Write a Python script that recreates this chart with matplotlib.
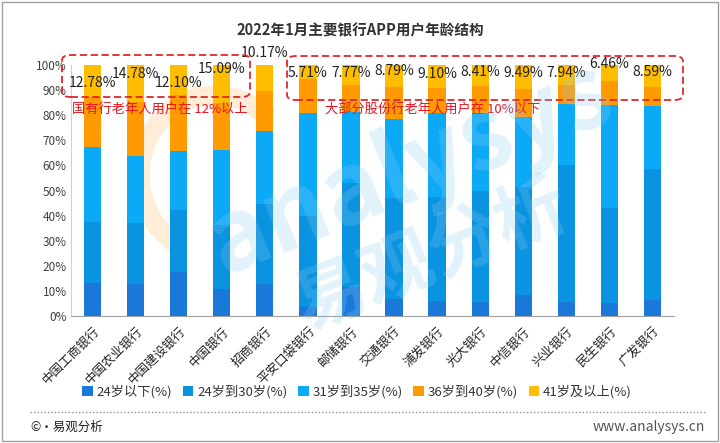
import matplotlib
matplotlib.use("Agg")
import matplotlib.pyplot as plt
from matplotlib.patches import FancyBboxPatch, Rectangle, Arc
from matplotlib.lines import Line2D
import numpy as np

plt.rcParams['font.family'] = ['Noto Sans CJK SC', 'DejaVu Sans']

banks = ['中国工商银行', '中国农业银行', '中国建设银行', '中国银行', '招商银行', '平安口袋银行',
         '邮储银行', '交通银行', '浦发银行', '光大银行', '中信银行', '兴业银行', '民生银行', '广发银行']
series_names = ['24岁以下(%)', '24岁到30岁(%)', '31岁到35岁(%)', '36岁到40岁(%)', '41岁及以上(%)']

under24 = [13.0, 12.6, 17.5, 10.6, 12.9, 3.7, 11.7, 6.9, 6.0, 5.7, 8.4, 5.7, 5.0, 6.4]
age24_30 = [24.6, 24.5, 24.7, 25.7, 31.7, 36.1, 41.4, 40.2, 41.5, 44.1, 43.0, 54.5, 38.2, 52.2]
age31_35 = [29.6, 26.6, 23.4, 29.8, 29.1, 41.2, 28.3, 31.3, 33.5, 30.9, 27.8, 24.3, 40.9, 25.1]
age36_40 = [20.0, 21.5, 22.3, 18.8, 16.1, 13.3, 10.8, 12.8, 9.9, 10.9, 11.3, 7.6, 9.4, 7.7]
age41_up = [12.78, 14.78, 12.10, 15.09, 10.17, 5.71, 7.77, 8.79, 9.10, 8.41, 9.49, 7.94, 6.46, 8.59]

# layout: vertical position (in axis %) of each value label
label_y = [92.8, 96.4, 92.8, 98.4, 104.8, 96.8, 96.8, 97.6, 96.4, 97.2, 96.8, 96.8, 100.4, 97.2]

colors = ['#1a78d8', '#0a93e0', '#0ca9f7', '#ff9a00', '#ffbd00']

fig = plt.figure(figsize=(7.2, 4.43), dpi=100)

# faint orange logo arc (watermark, behind)
fig.add_artist(Arc((215/720, 1-175/443), 150/720, 160/443, theta1=60, theta2=250,
                   transform=fig.transFigure, color='#ffd8a8', alpha=0.45, lw=14, zorder=0))

ax = fig.add_axes([71/720, 1-316/443, (674-71)/720, (316-65)/443])

x = np.arange(len(banks))
data = [under24, age24_30, age31_35, age36_40, age41_up]
bottom = np.zeros(len(banks))
handles = []
for vals, c, name in zip(data, colors, series_names):
    b = ax.bar(x, vals, 0.4, bottom=bottom, color=c, label=name, zorder=2)
    handles.append(b)
    bottom += np.array(vals)

for xi, v, ly in zip(x, age41_up, label_y):
    ax.text(xi, ly, f'{v:.2f}%', ha='center', va='center', fontsize=10, color='#222222', zorder=5)

ax.set_xlim(-0.5, len(banks)-0.5)
ax.set_ylim(0, 100)
ax.set_yticks(np.arange(0, 101, 10))
ax.set_yticklabels([f'{v}%' for v in range(0, 101, 10)], fontsize=8.5, color='#404040')
ax.set_xticks(x)
ax.set_xticklabels(banks, rotation=45, ha='right', rotation_mode='anchor', fontsize=9, color='#222222')
ax.tick_params(axis='both', length=0, pad=3)
ax.tick_params(axis='x', pad=6)
for s in ['top', 'right']:
    ax.spines[s].set_visible(False)
ax.spines['left'].set_color('#d0d0d0')
ax.spines['bottom'].set_color('#a0a0a0')
ax.patch.set_alpha(0)

# watermark
fig.text(0.57, 0.62, 'analysys', fontsize=72, rotation=22, color='#8ccbf2', alpha=0.25,
         ha='center', va='center', fontweight='bold', zorder=10)
fig.text(0.60, 0.42, '易观分析', fontsize=52, rotation=22, color='#8ccbf2', alpha=0.25,
         ha='center', va='center', fontweight='bold', zorder=10)

fig.text(0.5, 1-30/443, '2022年1月主要银行APP用户年龄结构', ha='center', va='center',
         fontsize=10.5, fontweight='bold', color='#333333')

# annotation boxes
box1 = FancyBboxPatch((62/720, 1-97/443), 188/720, 42/443, boxstyle='round,pad=0,rounding_size=0.012',
                      transform=fig.transFigure, fill=False, edgecolor='#e0262b', linestyle=(0, (4, 2)), lw=1.3, zorder=6)
box2 = FancyBboxPatch((287/720, 1-100/443), 396/720, 44/443, boxstyle='round,pad=0,rounding_size=0.012',
                      transform=fig.transFigure, fill=False, edgecolor='#e0262b', linestyle=(0, (4, 2)), lw=1.3, zorder=6)
fig.add_artist(box1)
fig.add_artist(box2)
fig.text(72/720, 1-110/443, '国有行老年人用户在 12%以上', ha='left', va='center', fontsize=9.5, color='#e8141e')
fig.text(325/720, 1-110/443, '大部分股份行老年人用户在 10%以下', ha='left', va='center', fontsize=9.5, color='#e8141e')

fig.legend(handles=handles, labels=series_names, loc='center', bbox_to_anchor=(357/720, 1-392/443),
           ncol=5, frameon=False, fontsize=9.5, handlelength=0.8, handleheight=0.8,
           handletextpad=0.3, columnspacing=0.8, labelcolor='#333333')

fig.add_artist(Line2D([30/720, 705/720], [1-412/443, 1-412/443], transform=fig.transFigure,
                      color='#909090', linestyle=(0, (1, 1.5)), lw=1))
fig.text(30/720, 1-427/443, '©•易观分析', ha='left', va='center', fontsize=9, color='#222222')
fig.text(705/720, 1-427/443, 'www.analysys.cn', ha='right', va='center', fontsize=10, color='#555555')

fig.add_artist(Rectangle((2/720, 2/443), 716/720, 439/443, transform=fig.transFigure,
                         fill=False, edgecolor='#a0a0a0', lw=1))

fig.savefig('out.png', dpi=100)
